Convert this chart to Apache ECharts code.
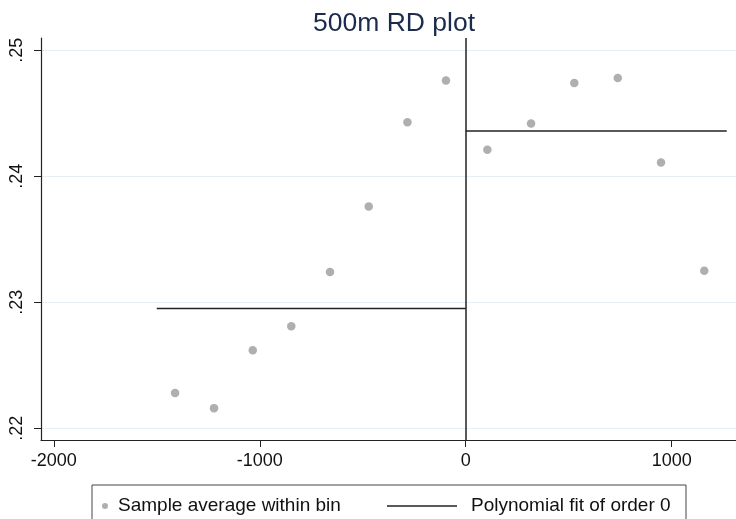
<!DOCTYPE html>
<html>
<head>
<meta charset="utf-8">
<title>500m RD plot</title>
<script src="https://cdn.jsdelivr.net/npm/echarts@6/dist/echarts.min.js"></script>
<style>
  html, body { margin: 0; padding: 0; background: #fff; }
  #chart { width: 736px; height: 519px; }
</style>
</head>
<body>
<div id="chart"></div>
<script>
// bin averages (distance in metres, share)
const binX = [-1411, -1222, -1034, -847, -659, -471, -283, -96, 105, 317, 527, 738, 948, 1158]
const binY = [0.2228, 0.2216, 0.2262, 0.2281, 0.2324, 0.2376, 0.2443, 0.2476, 0.2421, 0.2442, 0.2474, 0.2478, 0.2411, 0.2325]

// order 0 fit on each side of the cutoff
const cutoff = 0
const fitLeftX = [-1500, 0]
const fitLeftY = [0.2295, 0.2295]
const fitRightX = [0, 1267]
const fitRightY = [0.2436, 0.2436]

const xTicks = [-2000, -1000, 0, 1000]
const yTicks = [0.22, 0.23, 0.24, 0.25]
const yTickLabels = ['.22', '.23', '.24', '.25']

const font = "'Liberation Sans', Arial, sans-serif"
const chart = echarts.init(document.getElementById('chart'))

let points = binX.map((x, i) => [x, binY[i]])
let fitLeft = fitLeftX.map((x, i) => [x, fitLeftY[i]])
let fitRight = fitRightX.map((x, i) => [x, fitRightY[i]])

let option = {
  animation: false,
  backgroundColor: '#fff',
  title: {
    text: '500m RD plot',
    left: 389,
    top: 5,
    textAlign: 'center',
    textStyle: {fontFamily: font, fontSize: 26.5, fontWeight: 'normal', color: '#1c2b4b'}
  },
  grid: {left: 41, right: 0, top: 38, bottom: 79},
  xAxis: {
    type: 'value',
    min: -2062,
    max: 1312,
    axisLine: {show: true, onZero: false, lineStyle: {color: '#222', width: 1.2}},
    axisTick: {show: true, length: 7, customValues: xTicks, lineStyle: {color: '#222'}},
    axisLabel: {
      customValues: xTicks, margin: 12, fontFamily: font, fontSize: 18, color: '#111',
      formatter: v => String(v)
    },
    splitLine: {show: false}
  },
  yAxis: {
    type: 'value',
    min: 0.21907,
    max: 0.25098,
    axisLine: {show: true, onZero: false, lineStyle: {color: '#222', width: 1.2}},
    axisTick: {show: true, length: 7, customValues: yTicks, lineStyle: {color: '#222'}},
    axisLabel: {
      customValues: yTicks,
      rotate: 90,
      margin: 15,
      fontFamily: font, fontSize: 18, color: '#111',
      formatter: v => yTickLabels[yTicks.findIndex(t => Math.abs(t - v) < 1e-9)] || ''
    },
    splitLine: {show: true, lineStyle: {color: '#e6eef3', width: 1}}
  },
  legend: [
    {
      data: ['Sample average within bin'],
      left: 97, top: 491,
      itemWidth: 12, itemHeight: 6,
      textStyle: {fontFamily: font, fontSize: 19, color: '#111', lineHeight: 20, padding: [0, 0, 0, 2]}
    },
    {
      data: [{name: 'Polynomial fit of order 0', icon: 'rect'}],
      left: 382, top: 491,
      itemWidth: 70, itemHeight: 1.5,
      itemStyle: {color: '#222'},
      textStyle: {fontFamily: font, fontSize: 19, color: '#111', lineHeight: 20, padding: [0, 0, 0, 9]}
    }
  ],
  graphic: [{
    type: 'rect',
    shape: {x: 92, y: 485, width: 594, height: 50},
    style: {fill: 'none', stroke: '#444', lineWidth: 1},
    silent: true
  }],
  series: [
    {
      name: 'Sample average within bin',
      type: 'scatter',
      symbolSize: 8.5,
      itemStyle: {color: '#9b9b9b'},
      data: points,
      z: 3
    },
    {
      name: 'Polynomial fit of order 0',
      type: 'line',
      symbol: 'none',
      lineStyle: {color: '#222', width: 1.5},
      itemStyle: {color: '#222'},
      data: fitLeft,
      markLine: {
        silent: true,
        symbol: 'none',
        label: {show: false},
        lineStyle: {color: '#222', width: 1.5, type: 'solid'},
        data: [{xAxis: cutoff}]
      }
    },
    {
      name: 'Polynomial fit of order 0',
      type: 'line',
      symbol: 'none',
      lineStyle: {color: '#222', width: 1.5},
      itemStyle: {color: '#222'},
      data: fitRight
    }
  ]
}
chart.setOption(option)
</script>
</body>
</html>
